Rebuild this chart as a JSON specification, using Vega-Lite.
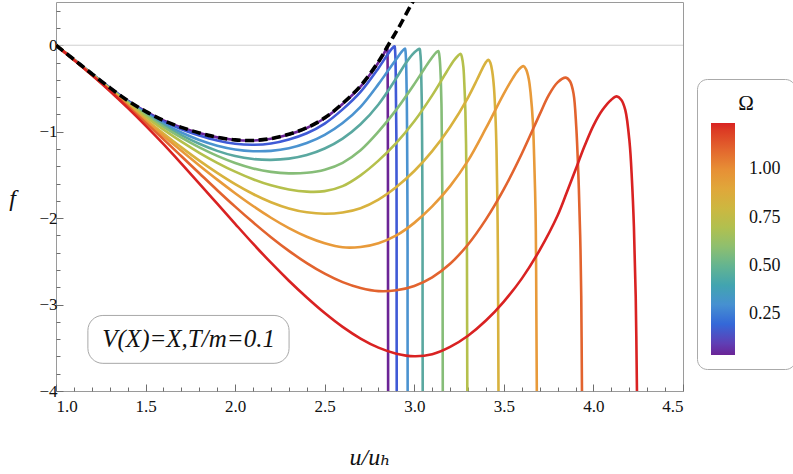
{
  "$schema": "https://vega.github.io/schema/vega-lite/v6.json",
  "width": 627,
  "height": 389,
  "autosize": {"type": "none"},
  "padding": {"left": 56, "top": 2, "right": 110, "bottom": 83},
  "background": "white",
  "config": {
    "view": {"stroke": "#9a9a9a", "strokeWidth": 1},
    "font": "Liberation Serif, Times New Roman, DejaVu Serif, serif",
    "axis": {"labelFont": "Liberation Serif, Times New Roman, DejaVu Serif, serif", "labelFontSize": 17, "labelColor": "#111", "tickColor": "#6e6e6e", "domain": false, "grid": false, "titleFont": "Liberation Serif, Times New Roman, DejaVu Serif, serif", "titleColor": "#111", "titleFontWeight": "normal"}
  },
  "datasets": {
    "curves": [
      {"omega":0.04,"x":1,"y":0},{"omega":0.04,"x":1.1,"y":-0.165},{"omega":0.04,"x":1.2,"y":-0.33},{"omega":0.04,"x":1.3,"y":-0.49},{"omega":0.04,"x":1.4,"y":-0.64},{"omega":0.04,"x":1.5,"y":-0.765},{"omega":0.04,"x":1.6,"y":-0.87},{"omega":0.04,"x":1.7,"y":-0.951},{"omega":0.04,"x":1.8,"y":-1.016},{"omega":0.04,"x":1.9,"y":-1.066},{"omega":0.04,"x":2.0,"y":-1.096},{"omega":0.04,"x":2.1,"y":-1.103},{"omega":0.04,"x":2.2,"y":-1.082},{"omega":0.04,"x":2.3,"y":-1.033},{"omega":0.04,"x":2.4,"y":-0.958},{"omega":0.04,"x":2.5,"y":-0.845},{"omega":0.04,"x":2.6,"y":-0.68},{"omega":0.04,"x":2.7,"y":-0.48},{"omega":0.04,"x":2.76,"y":-0.32},{"omega":0.04,"x":2.8,"y":-0.2},{"omega":0.04,"x":2.83,"y":-0.1},{"omega":0.04,"x":2.845,"y":-0.03},{"omega":0.04,"x":2.849,"y":-0.01},{"omega":0.04,"x":2.851,"y":-0.15},{"omega":0.04,"x":2.852,"y":-0.6},{"omega":0.04,"x":2.853,"y":-1.5},{"omega":0.04,"x":2.854,"y":-4.0},{"omega":0.04,"x":2.855,"y":-4.3},

      {"omega":0.17,"x":1,"y":0},{"omega":0.17,"x":1.1,"y":-0.165},{"omega":0.17,"x":1.2,"y":-0.331},{"omega":0.17,"x":1.3,"y":-0.492},{"omega":0.17,"x":1.4,"y":-0.644},{"omega":0.17,"x":1.5,"y":-0.773},{"omega":0.17,"x":1.6,"y":-0.884},{"omega":0.17,"x":1.7,"y":-0.972},{"omega":0.17,"x":1.8,"y":-1.045},{"omega":0.17,"x":1.9,"y":-1.103},{"omega":0.17,"x":2.0,"y":-1.14},{"omega":0.17,"x":2.1,"y":-1.152},{"omega":0.17,"x":2.2,"y":-1.137},{"omega":0.17,"x":2.3,"y":-1.09},{"omega":0.17,"x":2.4,"y":-1.018},{"omega":0.17,"x":2.5,"y":-0.906},{"omega":0.17,"x":2.6,"y":-0.742},{"omega":0.17,"x":2.7,"y":-0.54},{"omega":0.17,"x":2.8,"y":-0.265},{"omega":0.17,"x":2.85,"y":-0.11},{"omega":0.17,"x":2.875,"y":-0.04},{"omega":0.17,"x":2.89,"y":-0.012},{"omega":0.17,"x":2.8925,"y":-0.05},{"omega":0.17,"x":2.895,"y":-0.16},{"omega":0.17,"x":2.8965,"y":-0.34},{"omega":0.17,"x":2.898,"y":-0.66},{"omega":0.17,"x":2.9,"y":-1.06},{"omega":0.17,"x":2.901,"y":-1.7},{"omega":0.17,"x":2.9015,"y":-2.3},{"omega":0.17,"x":2.902,"y":-4.0},{"omega":0.17,"x":2.904,"y":-4.3},

      {"omega":0.31,"x":1,"y":0},{"omega":0.31,"x":1.1,"y":-0.166},{"omega":0.31,"x":1.2,"y":-0.332},{"omega":0.31,"x":1.3,"y":-0.495},{"omega":0.31,"x":1.4,"y":-0.65},{"omega":0.31,"x":1.5,"y":-0.787},{"omega":0.31,"x":1.6,"y":-0.907},{"omega":0.31,"x":1.7,"y":-1.01},{"omega":0.31,"x":1.8,"y":-1.097},{"omega":0.31,"x":1.9,"y":-1.163},{"omega":0.31,"x":2.0,"y":-1.206},{"omega":0.31,"x":2.1,"y":-1.226},{"omega":0.31,"x":2.2,"y":-1.222},{"omega":0.31,"x":2.3,"y":-1.192},{"omega":0.31,"x":2.4,"y":-1.132},{"omega":0.31,"x":2.5,"y":-1.037},{"omega":0.31,"x":2.6,"y":-0.9},{"omega":0.31,"x":2.7,"y":-0.712},{"omega":0.31,"x":2.8,"y":-0.45},{"omega":0.31,"x":2.85,"y":-0.305},{"omega":0.31,"x":2.9,"y":-0.16},{"omega":0.31,"x":2.93,"y":-0.075},{"omega":0.31,"x":2.948,"y":-0.038},{"omega":0.31,"x":2.951,"y":-0.07},{"omega":0.31,"x":2.954,"y":-0.18},{"omega":0.31,"x":2.956,"y":-0.36},{"omega":0.31,"x":2.9585,"y":-0.68},{"omega":0.31,"x":2.96,"y":-1.08},{"omega":0.31,"x":2.9615,"y":-1.73},{"omega":0.31,"x":2.9625,"y":-2.33},{"omega":0.31,"x":2.963,"y":-4.0},{"omega":0.31,"x":2.965,"y":-4.3},

      {"omega":0.44,"x":1,"y":0},{"omega":0.44,"x":1.1,"y":-0.166},{"omega":0.44,"x":1.2,"y":-0.333},{"omega":0.44,"x":1.3,"y":-0.498},{"omega":0.44,"x":1.4,"y":-0.655},{"omega":0.44,"x":1.5,"y":-0.796},{"omega":0.44,"x":1.6,"y":-0.925},{"omega":0.44,"x":1.7,"y":-1.04},{"omega":0.44,"x":1.8,"y":-1.14},{"omega":0.44,"x":1.9,"y":-1.222},{"omega":0.44,"x":2.0,"y":-1.282},{"omega":0.44,"x":2.1,"y":-1.316},{"omega":0.44,"x":2.2,"y":-1.326},{"omega":0.44,"x":2.3,"y":-1.312},{"omega":0.44,"x":2.4,"y":-1.27},{"omega":0.44,"x":2.5,"y":-1.195},{"omega":0.44,"x":2.6,"y":-1.08},{"omega":0.44,"x":2.7,"y":-0.915},{"omega":0.44,"x":2.8,"y":-0.685},{"omega":0.44,"x":2.9,"y":-0.38},{"omega":0.44,"x":2.95,"y":-0.215},{"omega":0.44,"x":2.99,"y":-0.105},{"omega":0.44,"x":3.015,"y":-0.058},{"omega":0.44,"x":3.03,"y":-0.042},{"omega":0.44,"x":3.033,"y":-0.08},{"omega":0.44,"x":3.037,"y":-0.19},{"omega":0.44,"x":3.039,"y":-0.37},{"omega":0.44,"x":3.042,"y":-0.69},{"omega":0.44,"x":3.0436,"y":-1.09},{"omega":0.44,"x":3.0453,"y":-1.74},{"omega":0.44,"x":3.0462,"y":-2.34},{"omega":0.44,"x":3.047,"y":-4.0},{"omega":0.44,"x":3.049,"y":-4.3},

      {"omega":0.57,"x":1,"y":0},{"omega":0.57,"x":1.1,"y":-0.166},{"omega":0.57,"x":1.2,"y":-0.334},{"omega":0.57,"x":1.3,"y":-0.501},{"omega":0.57,"x":1.4,"y":-0.661},{"omega":0.57,"x":1.5,"y":-0.808},{"omega":0.57,"x":1.6,"y":-0.945},{"omega":0.57,"x":1.7,"y":-1.07},{"omega":0.57,"x":1.8,"y":-1.182},{"omega":0.57,"x":1.9,"y":-1.28},{"omega":0.57,"x":2.0,"y":-1.362},{"omega":0.57,"x":2.1,"y":-1.425},{"omega":0.57,"x":2.2,"y":-1.465},{"omega":0.57,"x":2.3,"y":-1.482},{"omega":0.57,"x":2.4,"y":-1.475},{"omega":0.57,"x":2.5,"y":-1.44},{"omega":0.57,"x":2.6,"y":-1.36},{"omega":0.57,"x":2.7,"y":-1.215},{"omega":0.57,"x":2.8,"y":-1.0},{"omega":0.57,"x":2.9,"y":-0.745},{"omega":0.57,"x":3.0,"y":-0.45},{"omega":0.57,"x":3.06,"y":-0.26},{"omega":0.57,"x":3.1,"y":-0.14},{"omega":0.57,"x":3.12,"y":-0.088},{"omega":0.57,"x":3.134,"y":-0.066},{"omega":0.57,"x":3.139,"y":-0.105},{"omega":0.57,"x":3.144,"y":-0.215},{"omega":0.57,"x":3.148,"y":-0.395},{"omega":0.57,"x":3.152,"y":-0.715},{"omega":0.57,"x":3.154,"y":-1.115},{"omega":0.57,"x":3.1565,"y":-1.765},{"omega":0.57,"x":3.158,"y":-2.365},{"omega":0.57,"x":3.159,"y":-4.0},{"omega":0.57,"x":3.161,"y":-4.3},

      {"omega":0.71,"x":1,"y":0},{"omega":0.71,"x":1.1,"y":-0.167},{"omega":0.71,"x":1.2,"y":-0.336},{"omega":0.71,"x":1.3,"y":-0.505},{"omega":0.71,"x":1.4,"y":-0.67},{"omega":0.71,"x":1.5,"y":-0.828},{"omega":0.71,"x":1.6,"y":-0.977},{"omega":0.71,"x":1.7,"y":-1.116},{"omega":0.71,"x":1.8,"y":-1.244},{"omega":0.71,"x":1.9,"y":-1.36},{"omega":0.71,"x":2.0,"y":-1.463},{"omega":0.71,"x":2.1,"y":-1.551},{"omega":0.71,"x":2.2,"y":-1.621},{"omega":0.71,"x":2.3,"y":-1.669},{"omega":0.71,"x":2.4,"y":-1.694},{"omega":0.71,"x":2.5,"y":-1.688},{"omega":0.71,"x":2.6,"y":-1.63},{"omega":0.71,"x":2.7,"y":-1.505},{"omega":0.71,"x":2.8,"y":-1.335},{"omega":0.71,"x":2.9,"y":-1.13},{"omega":0.71,"x":3.0,"y":-0.88},{"omega":0.71,"x":3.1,"y":-0.58},{"omega":0.71,"x":3.18,"y":-0.31},{"omega":0.71,"x":3.22,"y":-0.18},{"omega":0.71,"x":3.245,"y":-0.118},{"omega":0.71,"x":3.259,"y":-0.1},{"omega":0.71,"x":3.266,"y":-0.14},{"omega":0.71,"x":3.274,"y":-0.25},{"omega":0.71,"x":3.279,"y":-0.43},{"omega":0.71,"x":3.285,"y":-0.75},{"omega":0.71,"x":3.289,"y":-1.15},{"omega":0.71,"x":3.292,"y":-1.8},{"omega":0.71,"x":3.294,"y":-2.4},{"omega":0.71,"x":3.296,"y":-4.0},{"omega":0.71,"x":3.298,"y":-4.3},

      {"omega":0.84,"x":1,"y":0},{"omega":0.84,"x":1.1,"y":-0.168},{"omega":0.84,"x":1.2,"y":-0.34},{"omega":0.84,"x":1.3,"y":-0.513},{"omega":0.84,"x":1.4,"y":-0.685},{"omega":0.84,"x":1.5,"y":-0.855},{"omega":0.84,"x":1.6,"y":-1.021},{"omega":0.84,"x":1.7,"y":-1.182},{"omega":0.84,"x":1.8,"y":-1.335},{"omega":0.84,"x":1.9,"y":-1.477},{"omega":0.84,"x":2.0,"y":-1.607},{"omega":0.84,"x":2.1,"y":-1.721},{"omega":0.84,"x":2.2,"y":-1.816},{"omega":0.84,"x":2.3,"y":-1.888},{"omega":0.84,"x":2.4,"y":-1.933},{"omega":0.84,"x":2.5,"y":-1.95},{"omega":0.84,"x":2.6,"y":-1.935},{"omega":0.84,"x":2.7,"y":-1.885},{"omega":0.84,"x":2.8,"y":-1.785},{"omega":0.84,"x":2.9,"y":-1.64},{"omega":0.84,"x":3.0,"y":-1.455},{"omega":0.84,"x":3.1,"y":-1.225},{"omega":0.84,"x":3.2,"y":-0.945},{"omega":0.84,"x":3.3,"y":-0.605},{"omega":0.84,"x":3.35,"y":-0.4},{"omega":0.84,"x":3.38,"y":-0.27},{"omega":0.84,"x":3.4,"y":-0.195},{"omega":0.84,"x":3.414,"y":-0.168},{"omega":0.84,"x":3.425,"y":-0.205},{"omega":0.84,"x":3.436,"y":-0.315},{"omega":0.84,"x":3.445,"y":-0.495},{"omega":0.84,"x":3.453,"y":-0.815},{"omega":0.84,"x":3.459,"y":-1.215},{"omega":0.84,"x":3.464,"y":-1.865},{"omega":0.84,"x":3.467,"y":-2.465},{"omega":0.84,"x":3.47,"y":-4.0},{"omega":0.84,"x":3.472,"y":-4.3},

      {"omega":0.97,"x":1,"y":0},{"omega":0.97,"x":1.1,"y":-0.169},{"omega":0.97,"x":1.2,"y":-0.342},{"omega":0.97,"x":1.3,"y":-0.518},{"omega":0.97,"x":1.4,"y":-0.695},{"omega":0.97,"x":1.5,"y":-0.873},{"omega":0.97,"x":1.6,"y":-1.049},{"omega":0.97,"x":1.7,"y":-1.222},{"omega":0.97,"x":1.8,"y":-1.391},{"omega":0.97,"x":1.9,"y":-1.555},{"omega":0.97,"x":2.0,"y":-1.712},{"omega":0.97,"x":2.1,"y":-1.86},{"omega":0.97,"x":2.2,"y":-1.996},{"omega":0.97,"x":2.3,"y":-2.116},{"omega":0.97,"x":2.4,"y":-2.216},{"omega":0.97,"x":2.5,"y":-2.291},{"omega":0.97,"x":2.6,"y":-2.338},{"omega":0.97,"x":2.7,"y":-2.334},{"omega":0.97,"x":2.8,"y":-2.29},{"omega":0.97,"x":2.9,"y":-2.2},{"omega":0.97,"x":3.0,"y":-2.055},{"omega":0.97,"x":3.1,"y":-1.865},{"omega":0.97,"x":3.2,"y":-1.63},{"omega":0.97,"x":3.3,"y":-1.335},{"omega":0.97,"x":3.4,"y":-0.96},{"omega":0.97,"x":3.5,"y":-0.56},{"omega":0.97,"x":3.55,"y":-0.38},{"omega":0.97,"x":3.58,"y":-0.29},{"omega":0.97,"x":3.609,"y":-0.242},{"omega":0.97,"x":3.624,"y":-0.28},{"omega":0.97,"x":3.639,"y":-0.39},{"omega":0.97,"x":3.65,"y":-0.57},{"omega":0.97,"x":3.662,"y":-0.89},{"omega":0.97,"x":3.669,"y":-1.29},{"omega":0.97,"x":3.677,"y":-1.94},{"omega":0.97,"x":3.68,"y":-2.54},{"omega":0.97,"x":3.684,"y":-4.0},{"omega":0.97,"x":3.686,"y":-4.3},

      {"omega":1.11,"x":1,"y":0},{"omega":1.11,"x":1.1,"y":-0.169},{"omega":1.11,"x":1.2,"y":-0.343},{"omega":1.11,"x":1.3,"y":-0.522},{"omega":1.11,"x":1.4,"y":-0.706},{"omega":1.11,"x":1.5,"y":-0.895},{"omega":1.11,"x":1.6,"y":-1.088},{"omega":1.11,"x":1.7,"y":-1.284},{"omega":1.11,"x":1.8,"y":-1.481},{"omega":1.11,"x":1.9,"y":-1.677},{"omega":1.11,"x":2.0,"y":-1.867},{"omega":1.11,"x":2.1,"y":-2.049},{"omega":1.11,"x":2.2,"y":-2.221},{"omega":1.11,"x":2.3,"y":-2.379},{"omega":1.11,"x":2.4,"y":-2.521},{"omega":1.11,"x":2.5,"y":-2.643},{"omega":1.11,"x":2.6,"y":-2.741},{"omega":1.11,"x":2.7,"y":-2.809},{"omega":1.11,"x":2.8,"y":-2.845},{"omega":1.11,"x":2.9,"y":-2.835},{"omega":1.11,"x":3.0,"y":-2.785},{"omega":1.11,"x":3.1,"y":-2.685},{"omega":1.11,"x":3.2,"y":-2.528},{"omega":1.11,"x":3.3,"y":-2.305},{"omega":1.11,"x":3.4,"y":-2.015},{"omega":1.11,"x":3.5,"y":-1.665},{"omega":1.11,"x":3.6,"y":-1.255},{"omega":1.11,"x":3.7,"y":-0.8},{"omega":1.11,"x":3.75,"y":-0.58},{"omega":1.11,"x":3.8,"y":-0.43},{"omega":1.11,"x":3.846,"y":-0.375},{"omega":1.11,"x":3.87,"y":-0.42},{"omega":1.11,"x":3.889,"y":-0.56},{"omega":1.11,"x":3.904,"y":-0.94},{"omega":1.11,"x":3.917,"y":-1.56},{"omega":1.11,"x":3.926,"y":-2.2},{"omega":1.11,"x":3.932,"y":-2.9},{"omega":1.11,"x":3.936,"y":-4.0},{"omega":1.11,"x":3.938,"y":-4.3},

      {"omega":1.24,"x":1,"y":0},{"omega":1.24,"x":1.1,"y":-0.17},{"omega":1.24,"x":1.2,"y":-0.345},{"omega":1.24,"x":1.3,"y":-0.53},{"omega":1.24,"x":1.4,"y":-0.725},{"omega":1.24,"x":1.5,"y":-0.93},{"omega":1.24,"x":1.6,"y":-1.145},{"omega":1.24,"x":1.7,"y":-1.37},{"omega":1.24,"x":1.8,"y":-1.6},{"omega":1.24,"x":1.9,"y":-1.833},{"omega":1.24,"x":2.0,"y":-2.066},{"omega":1.24,"x":2.1,"y":-2.296},{"omega":1.24,"x":2.2,"y":-2.516},{"omega":1.24,"x":2.3,"y":-2.724},{"omega":1.24,"x":2.4,"y":-2.918},{"omega":1.24,"x":2.5,"y":-3.098},{"omega":1.24,"x":2.6,"y":-3.258},{"omega":1.24,"x":2.7,"y":-3.393},{"omega":1.24,"x":2.8,"y":-3.498},{"omega":1.24,"x":2.9,"y":-3.568},{"omega":1.24,"x":3.0,"y":-3.598},{"omega":1.24,"x":3.1,"y":-3.575},{"omega":1.24,"x":3.2,"y":-3.49},{"omega":1.24,"x":3.3,"y":-3.36},{"omega":1.24,"x":3.4,"y":-3.185},{"omega":1.24,"x":3.5,"y":-2.965},{"omega":1.24,"x":3.6,"y":-2.7},{"omega":1.24,"x":3.7,"y":-2.37},{"omega":1.24,"x":3.8,"y":-1.97},{"omega":1.24,"x":3.85,"y":-1.71},{"omega":1.24,"x":3.9,"y":-1.44},{"omega":1.24,"x":3.95,"y":-1.17},{"omega":1.24,"x":4.0,"y":-0.93},{"omega":1.24,"x":4.05,"y":-0.75},{"omega":1.24,"x":4.1,"y":-0.63},{"omega":1.24,"x":4.13,"y":-0.592},{"omega":1.24,"x":4.155,"y":-0.63},{"omega":1.24,"x":4.178,"y":-0.75},{"omega":1.24,"x":4.202,"y":-1.13},{"omega":1.24,"x":4.215,"y":-1.56},{"omega":1.24,"x":4.226,"y":-2.1},{"omega":1.24,"x":4.236,"y":-2.9},{"omega":1.24,"x":4.243,"y":-4.0},{"omega":1.24,"x":4.245,"y":-4.3}
    ],
    "dashed": [
      {"x":1,"y":0},{"x":1.1,"y":-0.165},{"x":1.2,"y":-0.33},{"x":1.3,"y":-0.49},{"x":1.4,"y":-0.64},{"x":1.5,"y":-0.765},{"x":1.6,"y":-0.87},{"x":1.7,"y":-0.95},{"x":1.8,"y":-1.015},{"x":1.9,"y":-1.065},{"x":2.0,"y":-1.095},{"x":2.1,"y":-1.102},{"x":2.2,"y":-1.08},{"x":2.3,"y":-1.03},{"x":2.4,"y":-0.955},{"x":2.5,"y":-0.84},{"x":2.6,"y":-0.673},{"x":2.7,"y":-0.47},{"x":2.8,"y":-0.19},{"x":2.86,"y":0.02},{"x":2.92,"y":0.23},{"x":2.98,"y":0.46},{"x":3.0,"y":0.53}
    ]
  },
  "resolve": {"axis": {"x": "independent", "y": "independent"}},
  "layer": [
    {
      "data": {"values": [{}]},
      "mark": {"type": "rule", "color": "#cfcfcf", "strokeWidth": 1},
      "encoding": {
        "y": {"datum": 0, "type": "quantitative", "scale": {"domain": [-4, 0.5], "nice": false, "zero": false}, "axis": null}
      }
    },
    {
      "data": {"name": "curves"},
      "mark": {"type": "line", "strokeWidth": 2.6, "interpolate": "catmull-rom", "clip": true},
      "encoding": {
        "x": {"field": "x", "type": "quantitative", "scale": {"domain": [1, 4.5], "nice": false, "zero": false},
          "axis": {"orient": "bottom", "values": [1, 1.5, 2, 2.5, 3, 3.5, 4, 4.5], "format": ".1f", "tickSize": -7, "labelPadding": 14, "title": "u/uₕ", "titleFontSize": 24, "titleFontStyle": "italic", "titleBaseline": "middle", "titleY": 66}},
        "y": {"field": "y", "type": "quantitative", "scale": {"domain": [-4, 0.5], "nice": false, "zero": false},
          "axis": {"orient": "left", "values": [-4, -3, -2, -1, 0], "format": "d", "tickSize": -7, "labelPadding": 6, "title": "f", "titleAngle": 0, "titleFontSize": 24, "titleFontStyle": "italic", "titleX": -44, "titleY": 196, "titleAlign": "center", "titleBaseline": "middle"}},
        "color": {"field": "omega", "type": "quantitative",
          "scale": {"domain": [0.04, 0.17, 0.31, 0.44, 0.57, 0.71, 0.84, 0.97, 1.11, 1.24],
                    "range": ["#6b2496", "#3f5ad6", "#4b93d0", "#5aa8a0", "#86bd78", "#b5c04c", "#d8b23e", "#e89a3a", "#e2632e", "#d92222"]},
          "legend": {"title": "Ω", "orient": "none", "legendX": 641, "legendY": 77, "direction": "vertical", "gradientLength": 232, "gradientThickness": 24, "gradientStrokeWidth": 0, "values": [0.25, 0.5, 0.75, 1.0], "format": ".2f", "labelFont": "Liberation Serif, Times New Roman, DejaVu Serif, serif", "labelFontSize": 18, "labelColor": "#111", "labelOffset": 14, "titleFont": "Liberation Serif, Times New Roman, DejaVu Serif, serif", "titleFontSize": 21, "titleFontWeight": "normal", "titleColor": "#111", "titleAnchor": "middle", "titlePadding": 9, "padding": 14, "strokeColor": "#aaaaaa", "cornerRadius": 10, "fillColor": "white"}},
        "detail": {"field": "omega", "type": "nominal"}
      }
    },
    {
      "data": {"name": "dashed"},
      "mark": {"type": "line", "color": "black", "strokeWidth": 3.6, "strokeDash": [9, 4.5], "interpolate": "catmull-rom", "clip": true},
      "encoding": {
        "x": {"field": "x", "type": "quantitative", "scale": {"domain": [1, 4.5], "nice": false, "zero": false},
          "axis": {"orient": "bottom", "values": [1.1, 1.2, 1.3, 1.4, 1.6, 1.7, 1.8, 1.9, 2.1, 2.2, 2.3, 2.4, 2.6, 2.7, 2.8, 2.9, 3.1, 3.2, 3.3, 3.4, 3.6, 3.7, 3.8, 3.9, 4.1, 4.2, 4.3, 4.4], "labels": false, "tickSize": -4, "title": null}},
        "y": {"field": "y", "type": "quantitative", "scale": {"domain": [-4, 0.5], "nice": false, "zero": false},
          "axis": {"orient": "left", "values": [-3.8, -3.6, -3.4, -3.2, -2.8, -2.6, -2.4, -2.2, -1.8, -1.6, -1.4, -1.2, -0.8, -0.6, -0.4, -0.2, 0.2, 0.4], "labels": false, "tickSize": -4, "title": null}}
      }
    },
    {
      "data": {"values": [{}]},
      "mark": {"type": "rect", "fill": "white", "stroke": "#a8a8a8", "strokeWidth": 1, "cornerRadius": 15},
      "encoding": {
        "x": {"datum": 1.178, "type": "quantitative", "axis": null},
        "x2": {"datum": 2.301},
        "y": {"datum": -3.126, "type": "quantitative", "axis": null},
        "y2": {"datum": -3.68}
      }
    },
    {
      "data": {"values": [{}]},
      "mark": {"type": "text", "text": "V(X)=X,T/m=0.1", "font": "Liberation Serif, Times New Roman, DejaVu Serif, serif", "fontStyle": "italic", "fontSize": 25, "color": "#111", "align": "center", "baseline": "middle"},
      "encoding": {
        "x": {"datum": 1.74, "type": "quantitative", "axis": null},
        "y": {"datum": -3.40, "type": "quantitative", "axis": null}
      }
    }
  ]
}
